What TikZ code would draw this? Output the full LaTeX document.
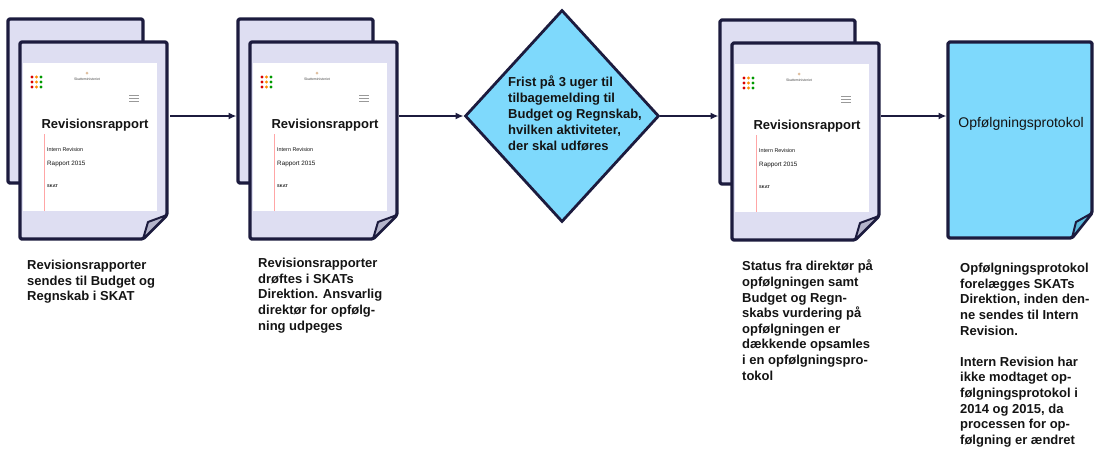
\documentclass[tikz,border=0pt]{standalone}
\usepackage{fontspec}
\setmainfont{Liberation Sans}
\usetikzlibrary{arrows.meta,shapes.geometric}

\definecolor{navy}{HTML}{1C1B3E}
\definecolor{lavender}{HTML}{DEDEF2}
\definecolor{foldgrey}{HTML}{B4B4CA}
\definecolor{skyblue}{HTML}{7ED9FC}
\definecolor{foldblue}{HTML}{5BBBDD}
\definecolor{inkblack}{HTML}{141414}

\tikzset{
    page/.style={draw=navy, line width=3.2pt, rounded corners=1.5pt, line join=round},
    pagebox/.style={inner sep=0pt, outer sep=0pt},
    flap/.style={draw=navy, line width=2pt, line join=round},
    flow/.style={draw=navy, line width=2pt, -{Latex[length=8pt,width=7pt]}},
    caption/.style={anchor=north west, inner sep=0pt, align=left, text=inkblack,
        font=\bfseries\fontsize{13}{15.6}\selectfont},
}

% stack of two report pages, #1 = suffix of the node names
\newcommand{\revdoc}[3]{%
    \begin{scope}[shift={(#2,#3)}]
        \node[pagebox, page, fill=lavender, minimum width=135pt, minimum height=164pt] (back#1) at (75.5,101) {};
        \node[pagebox, minimum width=147pt, minimum height=197pt] (front#1) at (93.5,140.5) {};
        \filldraw[page, fill=lavender] (front#1.north west) -- (front#1.north east)
            -- ([yshift=24pt]front#1.south east) -- ([xshift=-24pt]front#1.south east)
            -- (front#1.south west) -- cycle;
        \filldraw[flap, fill=foldgrey] ([xshift=-24pt]front#1.south east)
            -- ([xshift=-19pt,yshift=17pt]front#1.south east) -- ([yshift=24pt]front#1.south east) -- cycle;
        \fill[white] (23,63) rectangle (157,211);
        \draw[red!35, line width=0.9pt] (44,134) -- (44,211);
        \foreach \yy in {77,82,87} {
            \fill[red!85!black] (32,\yy) circle (1.7);
            \fill[orange!90!yellow] (36.5,\yy) circle (1.7);
            \fill[green!60!black] (41,\yy) circle (1.7);
        }
        \fill[brown!50] (87,73) circle (1.5);
        \node[inner sep=0pt, text=black!70, font=\fontsize{3.5}{4}\selectfont] (mini#1) at (87,79) {Skatteministeriet};
        \foreach \yy in {95,98,101}
            \draw[black!40, line width=0.6pt] (129,\yy) -- (139,\yy);
        \node[inner sep=0pt, text=inkblack, font=\bfseries\fontsize{13}{15}\selectfont] (title#1) at (95,125) {Revisionsrapport};
        \node[anchor=west, inner sep=0pt, text=inkblack, font=\fontsize{5.4}{6}\selectfont] (unit#1) at (47,150) {Intern Revision};
        \node[anchor=west, inner sep=0pt, text=inkblack, font=\fontsize{6.3}{7}\selectfont] (year#1) at (47,164) {Rapport 2015};
        \node[anchor=west, inner sep=0pt, text=inkblack, font=\bfseries\fontsize{4}{5}\selectfont] (org#1) at (47,186) {SKAT};
    \end{scope}}

\begin{document}
\begin{tikzpicture}[x=1pt, y=-1pt]
    \useasboundingbox (0,0) rectangle (1094,448);

    \revdoc{A}{0}{0}
    \revdoc{B}{230}{0}
    \revdoc{C}{712}{1}

    \node[diamond, draw=navy, line width=2.8pt, fill=skyblue, minimum width=194pt, minimum height=212pt, inner sep=0pt] (frist) at (562,116) {};
    \node[caption, font=\bfseries\fontsize{13}{15.8}\selectfont] (fristtxt) at (508,76) {Frist på 3 uger til\\tilbagemelding til\\Budget og Regnskab,\\hvilken aktiviteter,\\der skal udføres};

    \node[pagebox, minimum width=144pt, minimum height=196pt] (prot) at (1020,140) {};
    \filldraw[page, fill=skyblue] (prot.north west) -- (prot.north east)
        -- ([yshift=25pt]prot.south east) -- ([xshift=-20pt]prot.south east)
        -- (prot.south west) -- cycle;
    \filldraw[flap, fill=foldblue] ([xshift=-20pt]prot.south east)
        -- ([xshift=-16pt,yshift=16pt]prot.south east) -- ([yshift=25pt]prot.south east) -- cycle;
    \node[inner sep=0pt, text=inkblack, font=\fontsize{14}{16}\selectfont] (prottxt) at (1021,124) {Opfølgningsprotokol};

    \draw[flow, shorten <=3pt, shorten >=1.5pt] (frontA.east |- frist.west) -- (backB.west |- frist.west);
    \draw[flow, shorten <=2pt] (frontB.east |- frist.west) -- (frist.west);
    \draw[flow, shorten >=1.5pt] (frist.east) -- (backC.west |- frist.east);
    \draw[flow, shorten <=2pt, shorten >=1.5pt] (frontC.east |- frist.west) -- (prot.west |- frist.west);

    \node[caption] (capsend) at (27,260) {Revisionsrapporter\\sendes til Budget og\\Regnskab i SKAT};
    \node[caption] (capdrof) at (258,258) {Revisionsrapporter\\drøftes i SKATs\\Direktion. Ansvarlig\\direktør for opfølg-\\ning udpeges};
    \node[caption] (capstatus) at (742,260) {Status fra direktør på\\opfølgningen samt\\Budget og Regn-\\skabs vurdering på\\opfølgningen er\\dækkende opsamles\\i en opfølgningspro-\\tokol};
    \node[caption] (capprot) at (960,263) {Opfølgningsprotokol\\forelægges SKATs\\Direktion, inden den-\\ne sendes til Intern\\Revision.\\[15.6pt]Intern Revision har\\ikke modtaget op-\\følgningsprotokol i\\2014 og 2015, da\\processen for op-\\følgning er ændret};
\end{tikzpicture}
\end{document}
